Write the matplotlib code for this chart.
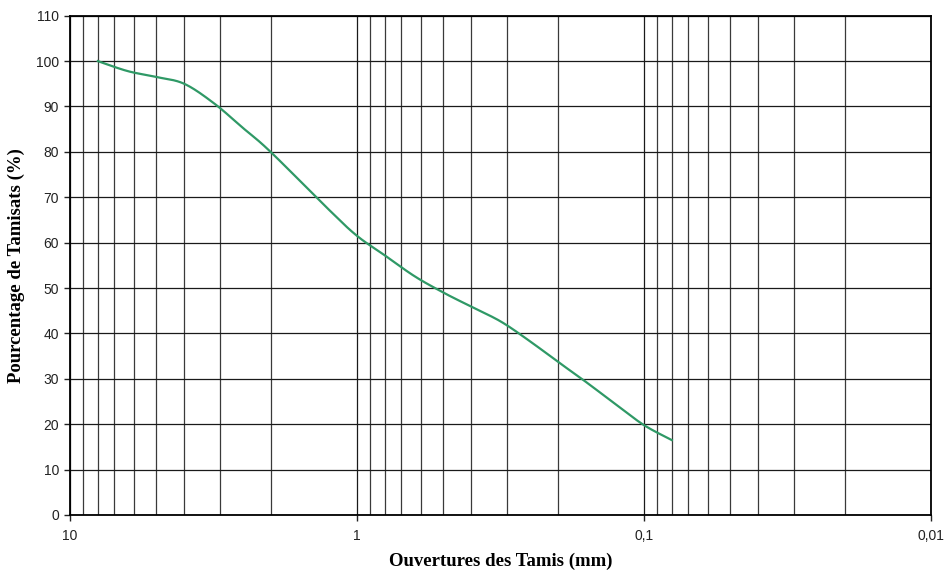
import numpy as np
import matplotlib
matplotlib.use("Agg")
from matplotlib import pyplot as plt
from matplotlib.ticker import LogLocator, NullFormatter, FixedLocator

# Analyse granulométrique : ouvertures des tamis (mm) et tamisats cumulés (%)
ouvertures = [8, 6.3, 5, 4, 3.15, 2.5, 2, 1.25, 1, 0.8, 0.63, 0.5, 0.4, 0.315,
              0.25, 0.2, 0.16, 0.125, 0.1, 0.08]
tamisats = [100, 97.8, 96.5, 95.0, 90.7, 85.3, 80, 67.2, 61.5, 57.2, 52.6, 49.0,
            45.9, 42.6, 38.3, 33.8, 29.4, 24.3, 19.8, 16.5]

x_ticks = [10, 1, 0.1, 0.01]
x_labels = ["10", "1", "0,1", "0,01"]
y_ticks = list(range(0, 111, 10))


def courbe_lissee(xs, ys, n=30):
    # lissage facon Excel : bezier avec points de controle a 1/6 (en log x)
    pts = np.column_stack([np.log10(xs), ys])
    m = len(pts)
    t = np.linspace(0, 1, n)[:, None]
    out = []
    for i in range(m - 1):
        p0 = pts[max(i - 1, 0)]
        p1 = pts[i]
        p2 = pts[i + 1]
        p3 = pts[min(i + 2, m - 1)]
        c1 = p1 + (p2 - p0) / 6
        c2 = p2 - (p3 - p1) / 6
        seg = (1 - t) ** 3 * p1 + 3 * (1 - t) ** 2 * t * c1 + 3 * (1 - t) * t ** 2 * c2 + t ** 3 * p2
        out.append(seg if i == 0 else seg[1:])
    out = np.vstack(out)
    return 10 ** out[:, 0], out[:, 1]


fig = plt.figure(figsize=(9.44, 5.72), dpi=100)
ax = fig.add_axes([70 / 944, 1 - 515 / 572, 861 / 944, 499.3 / 572])

xs, ys = courbe_lissee(ouvertures, tamisats)
ax.plot(xs, ys, color="#2f9966", lw=1.6, zorder=3)

ax.set_xscale("log")
ax.set_xlim(10, 0.01)
ax.set_ylim(0, 110)

ax.xaxis.set_major_locator(FixedLocator(x_ticks))
ax.set_xticklabels(x_labels)
ax.xaxis.set_minor_locator(LogLocator(base=10, subs=np.arange(2, 10)))
ax.xaxis.set_minor_formatter(NullFormatter())
ax.set_yticks(y_ticks)

ax.grid(True, which="major", axis="both", color="#1a1a1a", lw=0.9)
ax.grid(True, which="minor", axis="x", color="#3a3a3a", lw=0.9)

ax.tick_params(axis="both", which="major", direction="out", length=4, width=1,
               colors="#222222", labelsize=10)
ax.tick_params(axis="x", which="minor", length=0)
ax.tick_params(axis="x", pad=6)
ax.tick_params(axis="y", pad=4)
for lab in ax.get_xticklabels() + ax.get_yticklabels():
    lab.set_fontfamily("Liberation Sans")

for side, sp in ax.spines.items():
    sp.set_color("black")
    sp.set_linewidth(1.3)

ax.set_xlabel("Ouvertures des Tamis (mm)", fontfamily="Liberation Serif",
              fontweight="bold", fontsize=13.5, labelpad=7)
ax.set_ylabel("Pourcentage de Tamisats (%)", fontfamily="Liberation Serif",
              fontweight="bold", fontsize=13.5, labelpad=8)

fig.savefig("out.png", dpi=100)
